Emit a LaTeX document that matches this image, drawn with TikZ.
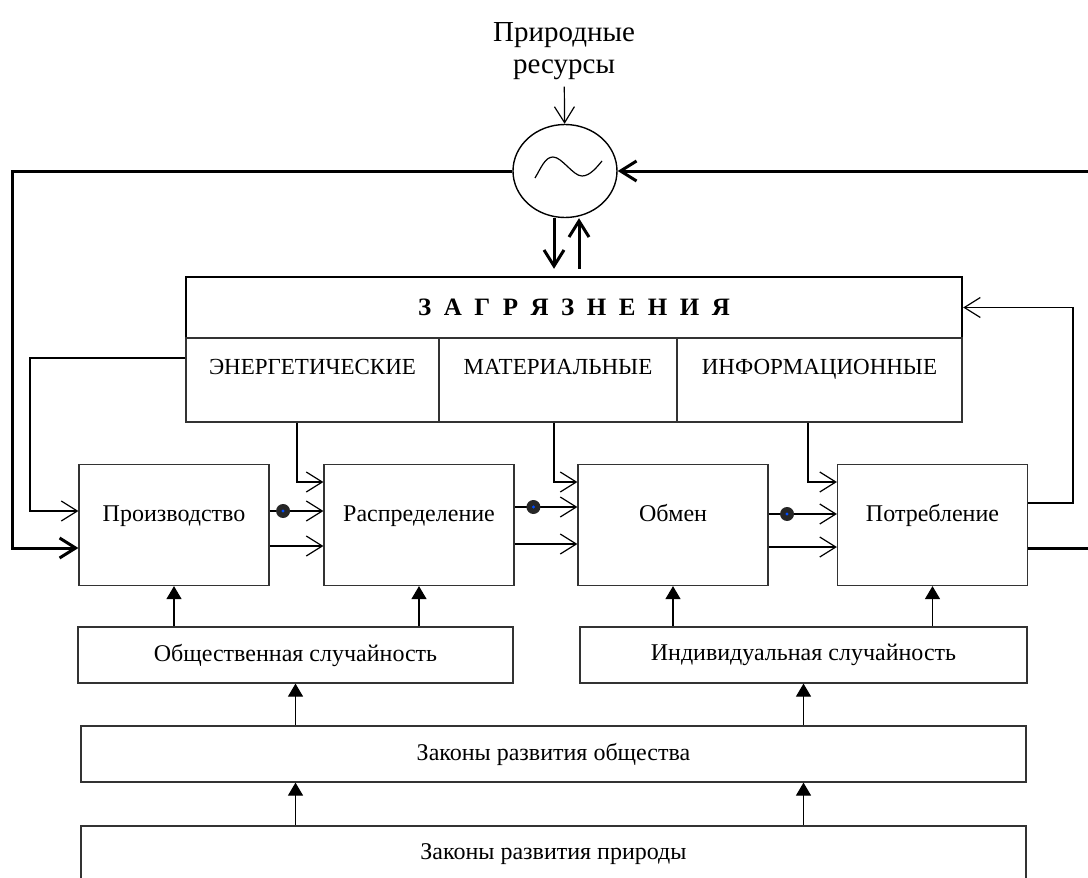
\documentclass[tikz,border=0pt]{standalone}
\usepackage{fontspec}
\setmainfont{Liberation Serif}
\usetikzlibrary{shapes}
\usetikzlibrary{arrows.meta}
\tikzset{
    block/.style = {rectangle, draw=black!80, line width=0.6pt, minimum width=95pt, minimum height=60.5pt, inner sep=0pt, text height=8pt, text depth=12pt, font=\fontsize{12}{14}\selectfont},
    cell/.style = {rectangle, draw=black!80, line width=0.6pt, minimum height=42pt, inner sep=0pt, text height=8pt, text depth=14pt, font=\fontsize{11.5}{13}\selectfont},
    head/.style = {rectangle, draw=black, line width=1.2pt, minimum width=388pt, minimum height=30.5pt, font=\fontsize{12.5}{14}\selectfont\bfseries},
    law/.style = {rectangle, draw=black!80, line width=0.6pt, minimum height=28pt, inner sep=0pt, font=\fontsize{12}{14}\selectfont},
    gen/.style = {ellipse, draw=black, line width=0.7pt, minimum width=52pt, minimum height=46.5pt, inner sep=0pt},
    dot/.style = {circle, fill=black!85, inner sep=0pt, minimum size=7pt, path picture={\fill[blue!70!cyan] (path picture bounding box.center) circle (0.8pt);}},
    arr/.style = {-{Straight Barb[length=8pt,width=10pt]}, line width=0.6pt},
    loopline/.style = {line width=1.5pt},
    looparr/.style = {-{Straight Barb[length=8pt,width=10pt]}, line width=1.5pt},
    up/.style = {-{Triangle[length=6.5pt,width=7.5pt]}, line width=0.6pt}
}
\begin{document}
\begin{tikzpicture}[x=0.5pt,y=-0.5pt]
\useasboundingbox (0,0) rectangle (1088,878);
%
\node[align=center, font=\fontsize{14.5}{16}\selectfont] at (564,51) (res) {Природные\\ресурсы};
\node[gen] at (565,171) (gen) {};
\draw[line width=0.6pt] (gen.center) ++(-30,7) .. controls +(6,-10) and +(-8,0) .. ++(18,-21) .. controls +(9,0) and +(-9,0) .. ++(29,19) .. controls +(8,0) and +(-5,6) .. ++(20,-15);
%
\node[head] at (574,307.5) (hdr) {З~~А~~Г~~Р~~Я~~З~~Н~~Е~~Н~~И~~Я};
\node[cell, minimum width=126.5pt] at (312.5,380) (energ) {ЭНЕРГЕТИЧЕСКИЕ};
\node[cell, minimum width=119pt] at (558,380) (mat) {МАТЕРИАЛЬНЫЕ};
\node[cell, minimum width=142.5pt] at (819.5,380) (inf) {ИНФОРМАЦИОННЫЕ};
%
\node[block] at (174,525) (prod) {Производство};
\node[block] at (419,525) (distr) {Распределение};
\node[block] at (673,525) (exch) {Обмен};
\node[block] at (932.5,525) (cons) {Потребление};
%
\node[law, minimum width=217.5pt] at (295.5,655) (pub) {Общественная случайность};
\node[law, minimum width=223.5pt] at (803.5,655) (ind) {Индивидуальная случайность};
\node[law, minimum width=472.5pt] at (553.5,754) (soc) {Законы развития общества};
\node[law, minimum width=472.5pt] at (553.5,854) (nat) {Законы развития природы};
%
\coordinate (lt) at (12,548);
\coordinate (rt) at (1092,171);
\coordinate (rb) at (1092,548);
\coordinate (lin) at (30,358);
\coordinate (rin) at (1073,400);
%
\draw[arr] (res) -- (gen);
\draw[looparr] (gen.west) -| (lt) -- (lt -| prod.west);
\draw[looparr] (rt) -- (gen.east);
\draw[loopline] (cons.east |- rb) -- (rb);
\draw[looparr, shorten >=3.5pt] ([xshift=-5.5pt]gen.south) -- ([xshift=-5.5pt]gen.south |- hdr.north);
\draw[looparr, shorten <=3.5pt] ([xshift=7pt]gen.south |- hdr.north) -- ([xshift=7pt]gen.south);
%
\draw[arr] ([xshift=-7.75pt]energ.south) |- ([yshift=21.5pt]distr.west);
\draw[arr] ([xshift=-2pt]mat.south) |- ([yshift=21.5pt]exch.west);
\draw[arr] ([xshift=-5.75pt]inf.south) |- ([yshift=21.5pt]cons.west);
\draw[arr] ([yshift=11pt]energ.west) -| (lin) |- ([yshift=7pt]prod.west);
\draw[arr] ([yshift=11pt]cons.east) -| (rin) |- (hdr.east);
%
\draw[arr] ([yshift=7pt]prod.east) -- node[dot,pos=0.25] (d1) {} ([yshift=7pt]distr.west);
\draw[arr] ([yshift=9pt]distr.east) -- node[dot,pos=0.3] (d2) {} ([yshift=9pt]exch.west);
\draw[arr] ([yshift=5.5pt]exch.east) -- node[dot,pos=0.27] (d3) {} ([yshift=5.5pt]cons.west);
\draw[arr] ([yshift=-10.5pt]prod.east) -- ([yshift=-10.5pt]distr.west);
\draw[arr] ([yshift=-9.5pt]distr.east) -- ([yshift=-9.5pt]exch.west);
\draw[arr] ([yshift=-11pt]exch.east) -- ([yshift=-11pt]cons.west);
%
\draw[up] (nat.north -| pub.south) -- (soc.south -| pub.south);
\draw[up] (nat.north -| ind.south) -- (soc.south -| ind.south);
\draw[up] (soc.north -| pub.south) -- (pub.south);
\draw[up] (soc.north -| ind.south) -- (ind.south);
\draw[up] (pub.north -| prod.south) -- (prod.south);
\draw[up] (pub.north -| distr.south) -- (distr.south);
\draw[up] (ind.north -| exch.south) -- (exch.south);
\draw[up] (ind.north -| cons.south) -- (cons.south);
\end{tikzpicture}
\end{document}
